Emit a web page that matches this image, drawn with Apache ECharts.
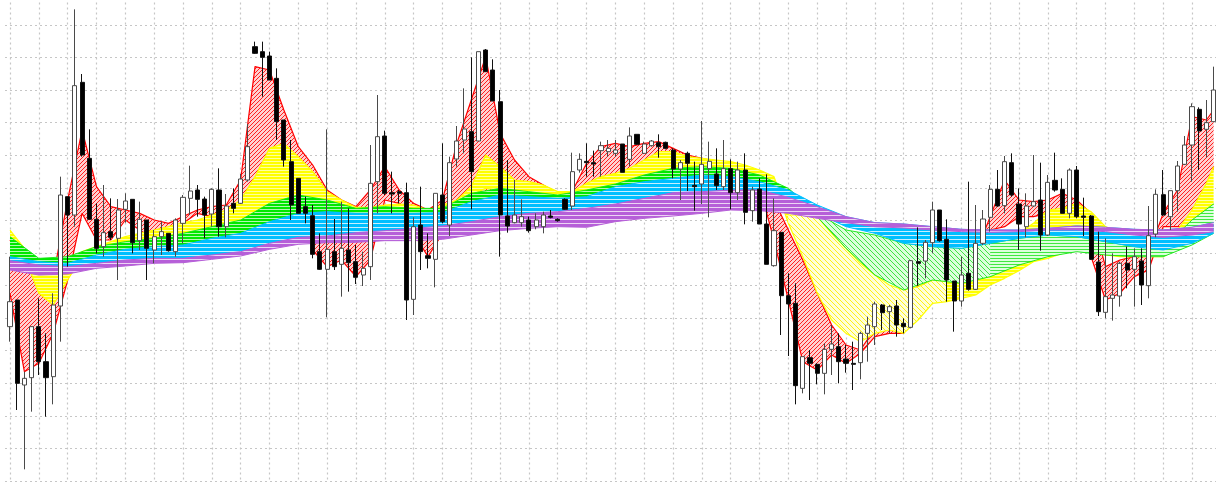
<!DOCTYPE html>
<html><head><meta charset="utf-8">
<style>html,body{margin:0;padding:0;background:#fff}#c{width:1220px;height:486px;filter:blur(.45px)}</style>
<script src="https://cdn.jsdelivr.net/npm/echarts@6/dist/echarts.min.js"></script>
</head><body><div id="c"></div>
<script>
const opens=[463,543,288,310,463,358,313,525,853,798,1196,968,785,703,748,728,815,845,721,783,693,733,743,688,773,848,873,846,801,873,763,833,833,903,1303,1288,1275,1208,1083,958,908,823,796,688,635,688,650,693,658,618,643,898,1035,865,868,865,545,768,676,665,858,768,966,1023,1048,1020,1293,1233,1138,795,775,775,783,763,763,795,785,845,825,933,959,955,991,988,983,1011,965,1040,983,1006,1015,1016,993,936,983,887,891,937,921,883,937,865,933,811,876,771,646,746,556,533,278,370,350,323,395,403,366,353,355,443,463,528,508,525,473,461,658,660,715,813,725,600,540,623,575,713,791,875,826,955,831,763,825,843,738,902,875,803,933,795,795,657,506,548,555,653,635,660,586,741,859,793,871,950,1008,1115,1055,1078];
const closes=[538,293,308,463,358,310,528,858,798,1186,978,785,698,745,731,813,840,715,785,698,733,748,691,783,851,870,845,798,875,763,825,818,906,1003,1283,1271,1203,1078,963,828,803,803,680,635,695,643,698,655,611,638,893,1033,863,861,863,543,763,688,668,863,778,955,1020,1056,928,1288,1228,1140,798,765,798,793,751,783,798,791,781,815,928,965,955,951,1006,998,993,926,1035,1010,1011,1020,1003,998,936,955,953,883,950,959,886,937,865,933,806,873,771,650,751,556,531,286,373,353,323,395,411,358,353,350,443,468,531,505,523,468,463,661,653,716,813,721,603,540,618,575,713,786,875,825,958,858,771,825,838,738,896,873,803,933,793,791,665,508,553,558,653,633,673,588,736,860,798,871,945,1008,1123,1050,1075,1173];
const lows=[418,213,35,208,318,193,230,418,643,763,973,783,683,673,723,603,775,683,693,603,653,678,688,673,713,798,793,728,763,733,731,803,831,898,1281,1153,1203,1023,943,783,803,773,668,633,491,633,553,568,591,585,603,803,858,803,833,483,498,633,638,581,773,735,943,983,815,1020,1228,1140,673,745,773,763,745,755,743,788,778,813,813,925,913,913,913,973,973,926,945,1008,981,1003,970,995,908,843,870,811,831,791,873,873,815,843,770,778,771,650,643,438,375,230,263,243,290,260,318,293,325,273,305,358,408,453,443,433,443,458,586,608,683,718,538,448,523,571,573,708,748,823,803,853,693,731,823,691,735,868,803,788,788,735,663,495,488,481,523,578,523,528,548,731,795,753,808,948,898,933,971,1078];
const highs=[673,543,328,463,548,443,563,913,853,1415,1221,1055,833,888,848,846,863,845,838,783,753,778,743,788,858,946,888,853,878,938,861,878,921,1071,1318,1318,1288,1238,1083,1023,908,853,828,743,1055,786,838,818,708,688,1008,1158,1051,928,873,895,791,883,743,863,1013,973,1065,1178,1271,1288,1296,1265,1173,963,903,845,793,803,808,813,788,848,985,983,1013,991,1018,1023,1023,1011,1061,1040,1018,1023,1040,1018,998,963,988,958,1080,1018,998,1023,965,958,983,883,908,920,848,746,623,593,373,393,353,413,468,443,408,418,448,493,538,531,528,543,488,663,761,723,838,813,785,600,673,898,828,813,888,933,975,983,878,863,978,955,918,985,908,938,945,850,798,748,728,683,658,703,698,698,825,875,933,871,960,1035,1133,1121,1143,1243];

const bandNodesCoarse=[0,4,8,12,16,20,24,28,32,36,40,44,48,52,56,60,64,68,72,76,80,84,88,92,96,100,104,108,112,116,120,124,128,132,136,140,144,148,152,156,160,164,167];
const bandNodesFine=[0,2,4,6,8,10,12,14,16,18,20,22,24,26,28,30,32,34,36,38,40,42,44,46,48,50,52,54,56,58,60,62,64,66,68,70,72,74,76,78,80,82,84,86,88,90,92,94,96,98,100,102,104,106,108,110,112,114,116,118,120,122,124,126,128,130,132,134,136,138,140,142,144,146,148,150,152,154,156,158,160,162,164,166,167];

const purpleUpper=[661,648,643,653,663,668,668,678,688,713,731,735,745,751,758,765,778,793,803,808,818,831,848,865,868,873,873,851,823,793,775,771,763,755,753,753,758,765,761,755,753,761,775];
const purpleLower=[633,618,621,638,645,653,655,665,675,695,710,715,716,721,721,725,738,751,758,763,761,778,788,795,803,813,811,803,788,775,763,759,753,748,746,748,753,753,748,738,731,738,748];
const blueUpper=[673,658,653,678,695,703,708,728,743,778,803,808,803,803,803,805,838,858,853,848,853,883,898,908,918,913,898,873,828,793,775,771,763,755,753,753,758,765,761,755,753,761,775];
const blueLower=[643,633,633,648,658,663,663,673,683,705,723,728,733,738,743,748,763,778,783,788,793,803,818,833,833,843,843,833,803,763,743,713,703,698,713,728,738,733,718,703,693,713,743];
const greenUpper=[733,668,673,703,718,728,743,763,783,833,858,843,818,823,818,818,863,878,868,858,873,891,918,938,943,938,918,878,803,753,738,713,703,698,713,728,738,733,718,703,698,783,831];
const greenLower=[673,653,648,673,688,698,703,723,738,773,798,803,798,798,798,798,833,853,848,843,848,878,893,903,913,908,893,868,793,698,618,573,603,593,613,648,673,688,678,673,673,708,743];
const yellowUpper=[753,698,643,628,663,688,703,718,733,743,753,763,775,783,798,813,843,913,998,1013,973,928,868,843,821,821,828,831,828,813,828,843,883,978,943,903,898,888,868,868,893,913,923,938,963,988,988,973,968,963,958,948,933,913,798,798,793,743,698,653,618,588,573,583,603,598,593,603,613,633,743,773,813,818,833,808,763,743,743,743,743,753,813,893,943];
const yellowLower=[693,673,563,528,603,673,698,708,713,718,723,731,738,748,758,768,778,803,828,843,853,848,838,828,815,815,818,821,815,808,813,823,858,878,873,868,863,858,853,858,868,881,888,898,915,928,933,938,938,938,933,928,913,898,773,673,563,483,443,418,443,453,443,483,533,538,548,558,588,608,631,658,668,683,693,688,678,673,673,673,673,698,778,818,831];
const redUpper=[723,643,613,613,843,1053,883,823,813,803,783,773,793,813,823,828,903,1243,1233,1113,1003,948,873,843,823,873,943,873,833,813,843,1013,1143,1273,1043,963,913,888,863,868,953,1003,1013,1003,1013,1018,998,978,968,958,948,938,923,843,753,663,563,468,408,393,458,523,483,593,713,723,643,683,793,903,843,838,843,863,843,803,643,663,673,683,803,873,1093,1083,1113];
const redLower=[563,328,353,443,603,803,723,723,783,753,723,713,773,803,793,803,833,863,843,843,823,693,643,663,613,663,843,833,743,673,743,823,843,853,803,778,778,783,778,813,883,893,883,893,913,933,933,933,933,933,928,923,883,723,543,358,333,378,353,383,433,443,443,543,653,623,573,643,753,763,793,793,803,803,813,673,543,563,613,633,763,763,763,843,943];

function tile(size,bg,draw){
  const c=document.createElement('canvas');c.width=c.height=size;
  const g=c.getContext('2d');g.fillStyle=bg;g.fillRect(0,0,size,size);draw(g,size);
  return {image:c,repeat:'repeat'};
}
const stripes=(col,bg,period,h)=>tile(period,bg,(g,s)=>{g.fillStyle=col;g.fillRect(0,0,s,h);});
const diagonal=(col,bg,size,w)=>tile(size,bg,(g,s)=>{g.strokeStyle=col;g.lineWidth=w;g.beginPath();g.moveTo(-1,-1);g.lineTo(s+1,s+1);g.moveTo(-1,s-1);g.lineTo(1,s+1);g.moveTo(s-1,-1);g.lineTo(s+1,1);g.stroke();});
const redHatch=tile(4,'#ffd0d0',(g,s)=>{g.fillStyle='#ff2020';for(let k=0;k<s;k++)g.fillRect(k,s-1-k,1,1);});

function band(name,nodes,upper,lower,segments,edge){
  return {type:'custom',name,xAxisIndex:0,yAxisIndex:0,silent:true,clip:false,
    data:segments.map(()=>[0,upper[0]]),encode:{x:0,y:1},
    renderItem(p,api){
      const seg=segments[p.dataIndex];
      const keep=nodes.map((n,k)=>k).filter(k=>nodes[k]>=seg.from&&nodes[k]<=seg.to);
      const up=keep.map(k=>api.coord([nodes[k],upper[k]]));
      const low=keep.map(k=>api.coord([nodes[k],lower[k]]));
      const edgeStyle={fill:null,stroke:edge.color,lineWidth:edge.width,lineJoin:'round'};
      return {type:'group',children:[
        {type:'polygon',shape:{points:up.concat(low.slice().reverse())},style:{fill:seg.fill}},
        {type:'polyline',shape:{points:up},style:edgeStyle},
        {type:'polyline',shape:{points:low},style:edgeStyle}
      ]};
    }};
}
const categories=opens.map((_,i)=>String(i));
const gridDash={color:'#c6c6c6',width:1.2,type:[2,3]};
const yellowDense=stripes('#ffff00','#ffffa0',3,2), greenDense=stripes('#00e800','#b0f8b0',3,2);
const yellowFan=diagonal('#ffee00','#ffffd8',5,.9), greenFan=diagonal('#30e030','#dcffdc',5,.9);
const greenLoose=stripes('#40e840','#dcffdc',3,1);
const chart=echarts.init(document.getElementById('c'),null,{renderer:'canvas'});
chart.setOption({
  animation:false,backgroundColor:'#fff',
  grid:[{left:10,top:-7.55,width:1203.6,height:488.55,outerBoundsMode:'none'},{left:5,top:-7.55,width:1211,height:488.55,outerBoundsMode:'none'}],
  xAxis:[
    {type:'category',gridIndex:0,data:categories,boundaryGap:false,axisLine:{show:false},axisTick:{show:false},axisLabel:{show:false},splitLine:{show:true,interval:3,lineStyle:gridDash}},
    {type:'value',gridIndex:1,min:0,max:1,show:false,splitLine:{show:false}}
  ],
  yAxis:[
    {type:'value',gridIndex:0,min:0,max:1465.65,interval:97.71,axisLine:{show:false},axisTick:{show:false},axisLabel:{show:false},splitLine:{show:false}},
    {type:'value',gridIndex:1,min:0,max:1465.65,interval:97.71,axisLine:{show:false},axisTick:{show:false},axisLabel:{show:false},splitLine:{show:true,lineStyle:gridDash}}
  ],
  series:[
    band('red',bandNodesFine,redUpper,redLower,[{from:0,to:167,fill:redHatch}],{color:'#ff0000',width:1.2}),
    band('yellow',bandNodesFine,yellowUpper,yellowLower,[
      {from:0,to:108,fill:yellowDense},
      {from:108,to:130,fill:yellowFan},
      {from:130,to:167,fill:yellowDense}],{color:'#ffff00',width:1.2}),
    band('green',bandNodesCoarse,greenUpper,greenLower,[
      {from:0,to:112,fill:greenDense},
      {from:112,to:136,fill:greenFan},
      {from:136,to:167,fill:greenLoose}],{color:'#10e810',width:.9}),
    band('blue',bandNodesCoarse,blueUpper,blueLower,[{from:0,to:167,fill:stripes('#00bfff','#c8f0ff',4,3)}],{color:'#00bfff',width:1}),
    band('purple',bandNodesCoarse,purpleUpper,purpleLower,[{from:0,to:167,fill:stripes('#b65fd8','#ecd4f4',4,3)}],{color:'#b65fd8',width:1}),
    {type:'candlestick',xAxisIndex:0,yAxisIndex:0,barWidth:4.6,clip:false,z:5,silent:true,
     data:opens.map((o,i)=>[o,closes[i],lows[i],highs[i]]),
     itemStyle:{color:'#ffffff',color0:'#000000',borderColor:'#4a4a4a',borderColor0:'#111111',borderWidth:1}}
  ]
});
</script></body></html>
